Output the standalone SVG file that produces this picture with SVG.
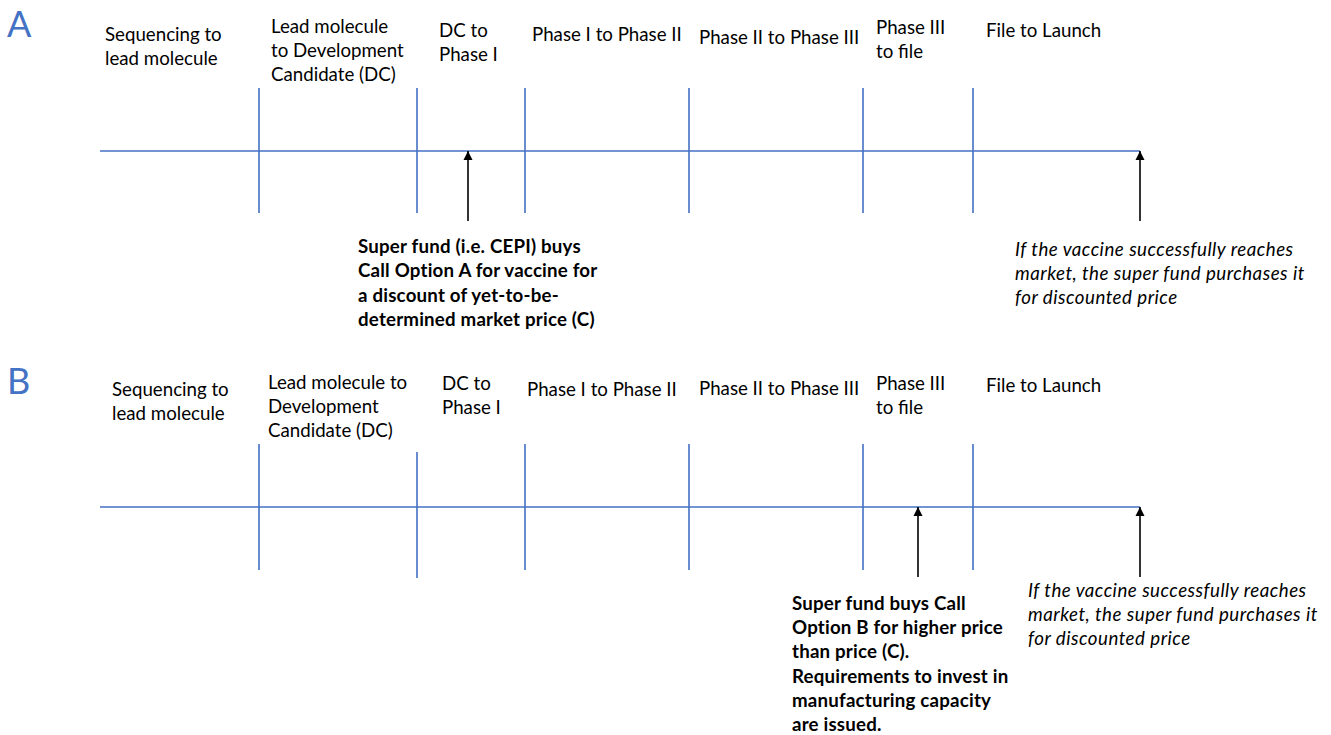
<svg xmlns="http://www.w3.org/2000/svg" width="1331" height="735" viewBox="0 0 1331 735">
<style>
text{font-family:Lato,"Open Sans","Liberation Sans",sans-serif;font-size:18.7px;fill:#000}
.big{font-size:36px;fill:#4472C4}
.b{font-weight:bold;letter-spacing:0.2px}
.i{font-style:italic;letter-spacing:0.5px}
.tl{stroke:#4472C4;stroke-width:1.6;fill:none}
.ar{stroke:#000;stroke-width:1.6;fill:none;marker-end:url(#ah)}
</style>
<defs>
<marker id="ah" viewBox="0 0 10 10" refX="10" refY="5" markerUnits="userSpaceOnUse" markerWidth="9" markerHeight="10" orient="auto">
<path d="M0,0 L10,5 L0,10 z" fill="#000"/>
</marker>
</defs>
<rect width="1331" height="735" fill="#fff"/>

<g id="labelA"><text class="big" x="7" y="37">A</text></g>
<g id="timelineA">
<path class="tl" d="M100,151 H1140 M259,88 V213 M417,88 V213 M525,88 V213 M689,88 V213 M863,88 V213 M973,88 V213"/>
</g>
<g id="stagesA">
<text x="105" y="41">Sequencing to<tspan x="105" dy="24">lead molecule</tspan></text>
<text x="271" y="33">Lead molecule<tspan x="271" dy="24">to Development</tspan><tspan x="271" dy="24">Candidate (DC)</tspan></text>
<text x="439" y="37">DC to<tspan x="439" dy="24">Phase I</tspan></text>
<text x="532" y="41">Phase I to Phase II</text>
<text x="699" y="44">Phase II to Phase III</text>
<text x="876" y="34">Phase III<tspan x="876" dy="24">to file</tspan></text>
<text x="986" y="37">File to Launch</text>
</g>
<g id="noteA1"><text class="b" x="358" y="253">Super fund (i.e. CEPI) buys<tspan x="358" dy="24.3">Call Option A for vaccine for</tspan><tspan x="358" dy="24.3">a discount of yet-to-be-</tspan><tspan x="358" dy="24.3">determined market price (C)</tspan></text></g>
<g id="noteA2"><text class="i" x="1015" y="256">If the vaccine successfully reaches<tspan x="1015" dy="24">market, the super fund purchases it</tspan><tspan x="1015" dy="24">for discounted price</tspan></text></g>

<g id="labelB"><text class="big" x="7" y="394">B</text></g>
<g id="timelineB">
<path class="tl" d="M100,507 H1140 M259,444 V570 M417,452 V578 M525,444 V570 M689,444 V570 M863,444 V570 M973,444 V570"/>
</g>
<g id="stagesB">
<text x="112" y="396">Sequencing to<tspan x="112" dy="24">lead molecule</tspan></text>
<text x="268" y="389">Lead molecule to<tspan x="268" dy="24">Development</tspan><tspan x="268" dy="24">Candidate (DC)</tspan></text>
<text x="442" y="390">DC to<tspan x="442" dy="24">Phase I</tspan></text>
<text x="527" y="396">Phase I to Phase II</text>
<text x="699" y="395">Phase II to Phase III</text>
<text x="876" y="390">Phase III<tspan x="876" dy="24">to file</tspan></text>
<text x="986" y="392">File to Launch</text>
</g>
<g id="noteB1"><text class="b" x="792" y="610">Super fund buys Call<tspan x="792" dy="24.2">Option B for higher price</tspan><tspan x="792" dy="24.2">than price (C).</tspan><tspan x="792" dy="24.2">Requirements to invest in</tspan><tspan x="792" dy="24.2">manufacturing capacity</tspan><tspan x="792" dy="24.2">are issued.</tspan></text></g>
<g id="noteB2"><text class="i" x="1028" y="597">If the vaccine successfully reaches<tspan x="1028" dy="24">market, the super fund purchases it</tspan><tspan x="1028" dy="24">for discounted price</tspan></text></g>

<g id="connectors">
<path class="ar" d="M468,221 V151"/>
<path class="ar" d="M1140,221 V151"/>
<path class="ar" d="M918,577 V507"/>
<path class="ar" d="M1140,577 V507"/>
</g>
</svg>
